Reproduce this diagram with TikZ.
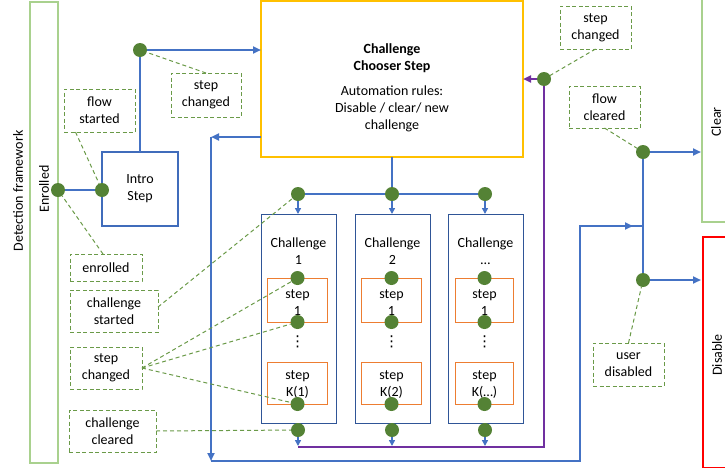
\documentclass[tikz,border=0pt]{standalone}
\usepackage{fontspec}
\setmainfont{Carlito}
\newfontfamily\symfont{DejaVu Sans}
\usetikzlibrary{arrows.meta}
\definecolor{cblue}{HTML}{4472C4}
\definecolor{cdkblue}{HTML}{2F5597}
\definecolor{cdot}{HTML}{548235}
\definecolor{cdash}{HTML}{6A9A48}
\definecolor{cbar}{HTML}{A9D18E}
\definecolor{cgold}{HTML}{FFC000}
\definecolor{corange}{HTML}{ED7D31}
\definecolor{cpurple}{HTML}{7030A0}
\definecolor{cred}{HTML}{FF0000}
\begin{document}
\begin{tikzpicture}[x=1pt,y=-1pt,
  font=\fontsize{14}{17}\selectfont,
  every node/.style={inner sep=0pt, outer sep=0pt},
  dot/.style={circle, fill=cdot, minimum size=14pt},
  conn/.style={draw=cblue, line width=2pt},
  pconn/.style={draw=cpurple, line width=2pt},
  arr/.style={-{Triangle[length=8pt,width=7pt]}},
  sarr/.style={-{Triangle[length=6pt,width=6pt]}},
  note/.style={draw=cdash, line width=1pt, dash pattern=on 4pt off 2.5pt, align=center},
  lead/.style={draw=cdash, line width=1pt, dash pattern=on 4pt off 3pt},
  chbox/.style={draw=cdkblue, line width=1pt, minimum width=75pt, minimum height=209pt},
  stepbox/.style={draw=corange, line width=1pt},
  lbl/.style={align=center},
  barline/.style={draw=cbar, line width=1.3pt},
]
\useasboundingbox (0,0) rectangle (725,469);

% side bars
\node[barline, minimum width=28pt, minimum height=461pt] (enbar) at (44,232.5) {};
\node[rotate=90] (enlbl) at (44,189) {Enrolled};
\node[rotate=90] (dflbl) at (18,191) {Detection framework};
\draw[barline] (735,222) -| (702,-5);
\node[rotate=90] (cllbl) at (716,122) {Clear};
\draw[draw=cred, line width=1.2pt] (735,237) -| (703,467.5) -- (735,467.5);
\node[rotate=90] (dilbl) at (717,355) {Disable};

% notes
\node[note, minimum width=70pt, minimum height=44pt] (sc1) at (206,95) {step\\changed};
\node[note, minimum width=71pt, minimum height=43pt] (fs) at (99.5,110.5) {flow\\started};
\node[note, minimum width=72pt, minimum height=27pt] (en) at (106,267.5) {enrolled};
\node[note, minimum width=88pt, minimum height=42pt] (cs) at (114,311) {challenge\\started};
\node[note, minimum width=72pt, minimum height=42pt] (sc2) at (106,368) {step\\changed};
\node[note, minimum width=87pt, minimum height=42pt] (cc) at (112.5,431) {challenge\\cleared};
\node[note, minimum width=71pt, minimum height=43pt] (sc3) at (595.5,27.5) {step\\changed};
\node[note, minimum width=71pt, minimum height=42pt] (fc) at (604.5,107) {flow\\cleared};
\node[note, minimum width=71pt, minimum height=43pt] (ud) at (628.5,364.5) {user\\disabled};

% chooser
\node[draw=cgold, line width=1.3pt, minimum width=262pt, minimum height=156pt] (chooser) at (392,79) {};
\node[lbl] (choosertxt) at (392,88) {\textbf{Challenge}\\\textbf{Chooser Step}\\[8pt]Automation rules:\\Disable / clear/ new\\challenge};

% intro
\node[draw=cblue!80!cdkblue, line width=1.1pt, minimum width=76pt, minimum height=74pt, align=center] (intro) at (140,189) {Intro\\Step};

% challenges
\foreach \i/\x/\n/\k/\sw in {1/298.5/1/1/60, 2/392.5/2/2/60, 3/485.5/…/…/58} {
  \node[chbox] (ch\i) at (\x,318.5) {};
  \node[lbl] (cht\i) at (\x,251.5) {Challenge\\\n};
  \node[stepbox, minimum width=\sw pt, minimum height=44pt] (sA\i) at (\x-1,300) {};
  \node[stepbox, minimum width=\sw pt, minimum height=42pt] (sB\i) at (\x-1,383) {};
  \node[lbl] (sAt\i) at (\x-1,303) {step\\1};
  \node[lbl] (sBt\i) at (\x-1,385) {step\\K(\k)};
  \node (vd\i) at (\x-1,342) {\symfont\fontsize{15}{15}\selectfont ⋮};
  \node[dot] (dT\i) at (\x-0.5,194) {};
  \node[dot] (dS\i) at (sA\i.north) {};
  \node[dot] (dE\i) at (sA\i.south) {};
  \node[dot] (dK\i) at (sB\i.south) {};
  \node[dot] (dB\i) at (\x-0.5,430) {};
}

% other dots
\node[dot] (dEn) at (58,190) {};
\node[dot] (dIn) at (intro.west |- dEn) {};
\node[dot] (dIt) at (140,50) {};
\node[dot] (dPu) at (544,79) {};
\node[dot] (dFc) at (643,152) {};
\node[dot] (dUd) at (643,280) {};

\coordinate (pL) at (298,447);
\coordinate (pR) at (544,447);
\coordinate (rA) at (211,137);
\coordinate (rB) at (211,461);
\coordinate (rC) at (580,461);
\coordinate (rD) at (580,226);
\coordinate (clearEdge) at (701,0);

% blue connectors
\draw[conn] (dEn) -- (dIn);
\draw[conn] (intro.north) -- (dIt);
\draw[conn,arr] (dIt) -- (dIt -| chooser.west);
\draw[conn] (chooser.south) -- (dT2);
\draw[conn] (dT1) -- (dT2);
\draw[conn] (dT2) -- (dT3);
\foreach \i in {1,2,3} {
  \draw[conn,sarr] (dT\i) -- (dT\i |- ch\i.north);
  \draw[conn,sarr] (dB\i) -- ([yshift=1pt]dB\i |- pL);
}
\draw[pconn] (pL) -- (pR) -- (dPu);
\draw[pconn,arr] (dPu) -- (dPu -| chooser.east);
\draw[conn,arr] (rA -| chooser.west) -- (rA);
\draw[conn,arr] (rA) -- (rB);
\draw[conn] (rB) -- (rC) -- (rD) -- (rD -| dFc);
\draw[conn,arr] (rD) -- ([xshift=-10pt]rD -| dFc);
\draw[conn] (dFc) -- (dUd);
\draw[conn,arr] (dFc) -- (dFc -| clearEdge);
\draw[conn,arr] (dUd) -- (dUd -| clearEdge);

% dashed leads
\draw[lead] (sc1.north) -- (dIt);
\draw[lead] ([xshift=-24pt]fs.south) -- (dIn);
\draw[lead] ([xshift=-3pt]en.north) -- (dEn);
\draw[lead] ([yshift=4pt]cs.east) -- (dT1);
\draw[lead] (sc2.east) -- (dS1);
\draw[lead] (sc2.east) -- (dE1);
\draw[lead] (sc2.east) -- (dK1);
\draw[lead] (cc.east) -- (dB1);
\draw[lead] (sc3.south) -- (dPu);
\draw[lead] (fc.south) -- (dFc);
\draw[lead] (ud.north) -- (dUd);
\end{tikzpicture}
\end{document}
